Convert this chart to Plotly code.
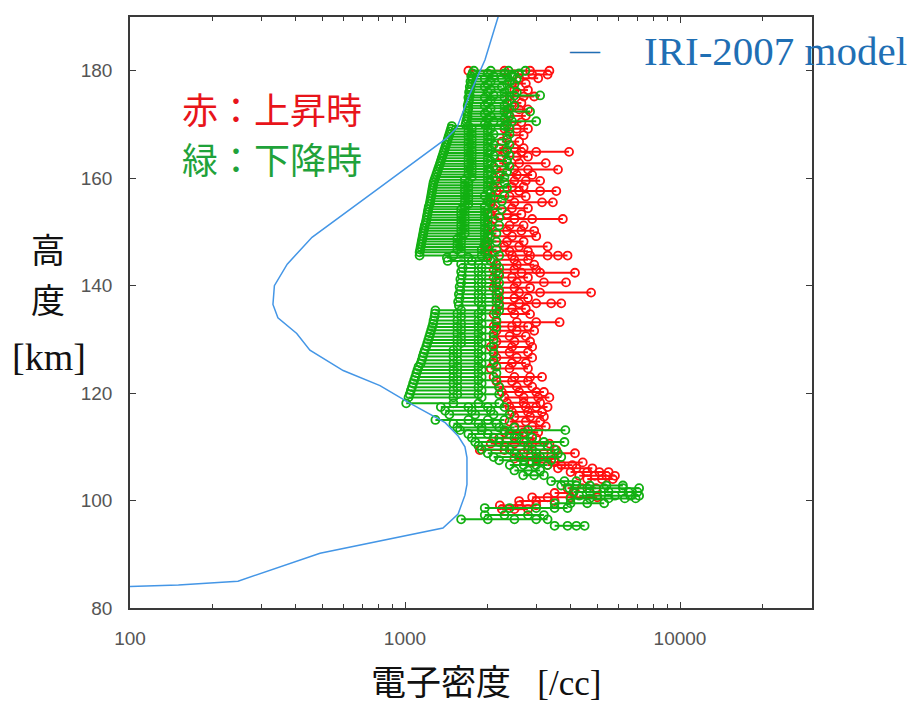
import plotly.graph_objects as go

# ---------------- data ----------------
# IRI-2007 model profile: electron density [/cc] vs altitude [km]
iri_density = [100, 150, 247, 491, 1374, 1560, 1652, 1680, 1680, 1652, 1560, 1400, 1025, 811,
               596, 451, 404, 345, 331, 335, 373, 459, 811, 1422, 1545, 1722, 1953, 2180, 2300]
iri_alt = [84.0, 84.3, 85.0, 90.2, 94.9, 97.5, 101.0, 103.0, 108.0, 110.0, 112.0, 114.5, 118.3, 121.4,
           124.2, 128.0, 131.1, 134.0, 136.5, 140.0, 144.0, 149.0, 158.3, 167.5, 169.4, 175.7, 182.0, 190.0, 193.0]

# ascending (red): (altitude, densities measured along the row)
up_upper = [
    (180.0, [1700, 2300, 2850, 3350]), (179.3, [2500, 2900, 3300]), (178.6, [2600, 3050]),
    (177.6, [2450, 2750]), (176.4, [2500, 2800]), (175.2, [2400, 2700, 2950]),
    (174.0, [2450, 2650]), (172.8, [2350, 2600, 2800]), (171.6, [2400, 2750]),
    (170.4, [2350, 2650]), (169.2, [2300, 2550, 2800]), (168.0, [2350, 2700]),
    (166.8, [2250, 2600]), (165.6, [2200, 2500, 2700]), (164.9, [2300, 2650, 3000, 3950]),
    (164.0, [2250, 2550, 2800]), (162.8, [2200, 2600, 3250]), (161.6, [2150, 2500, 2800, 3600]),
    (160.6, [2200, 2550, 2900]), (159.5, [2150, 2500, 2750, 3100]), (158.4, [2100, 2450, 2700]),
    (157.6, [2150, 2600, 3100, 3550]), (156.6, [2100, 2400, 2750]), (155.5, [2050, 2500, 3150, 3450]),
    (154.4, [2100, 2450, 2800]), (153.3, [2050, 2350, 2650]), (152.4, [2100, 2500, 2900, 3750]),
    (151.2, [2050, 2400, 2700]), (150.2, [2000, 2350, 2650, 2950]), (149.2, [2050, 2450, 3000]),
    (148.2, [2000, 2350, 2700]), (147.3, [1950, 2300, 2600, 3300]), (146.4, [2000, 2400, 2800]),
    (145.6, [2000, 2450, 2850, 3300, 3600, 3900]), (144.8, [2100, 2500, 2800]),
]
up_middle = [
    (143.9, [2150, 2550, 2950]), (143.0, [2100, 2500, 3000]), (142.4, [2200, 2650, 3100, 4150]),
    (141.5, [2100, 2450, 2800]), (140.6, [2150, 2550, 3200, 3850]), (139.6, [2100, 2500, 2850]),
    (138.7, [2200, 2600, 3100, 4750]), (137.7, [2150, 2500, 2800]), (136.7, [2200, 2600, 3000, 3400, 3700]),
    (135.7, [2150, 2450, 2750]), (134.7, [2100, 2500, 2850]), (133.2, [2150, 2550, 3000, 3650]),
    (132.4, [2100, 2450, 2800]), (131.6, [2150, 2550, 2950]), (130.6, [2100, 2400, 2750]),
    (129.6, [2150, 2500, 2850]), (128.6, [2050, 2450, 2900]), (127.6, [2100, 2400, 2800]),
    (126.6, [2150, 2550, 2900]), (125.6, [2100, 2450, 2750]), (124.6, [2050, 2400, 2800]),
    (123.0, [2100, 2500, 2850, 3150]), (122.2, [2150, 2450, 2800]), (121.2, [2200, 2550, 2900]),
    (120.2, [2250, 2600, 3000, 3200]), (119.2, [2300, 2700, 3050, 3350]), (118.2, [2350, 2700, 3100]),
    (117.4, [2400, 2750, 3000, 3300]),
]
up_lower = [
    (116.5, [2450, 2800, 3150]), (115.6, [2500, 2850, 3200]), (114.7, [2400, 2750, 3100]),
    (113.8, [2500, 2900, 3250]), (112.7, [2300, 2700, 3050]), (111.6, [2200, 2600, 3000]),
    (110.6, [2050, 2500, 2900, 3350]), (109.4, [1870, 2300, 2800, 3550]), (108.8, [2700, 3200, 4150]),
    (107.8, [2500, 3000, 3500]), (107.1, [2900, 3500, 4430]), (106.6, [3300, 3700, 4060]),
    (106.0, [3600, 4200, 4800]), (105.3, [4000, 4600, 5090, 5500]), (104.6, [4300, 4900, 5400, 5800]),
    (104.0, [4600, 5200, 5700]), (102.3, [3900, 4400, 4950]), (101.4, [3500, 4100]),
    (100.6, [2900, 3300, 4000, 5000]), (99.9, [2600, 3000, 3500]), (99.1, [2213, 2600, 3000]),
    (98.4, [2250, 2500, 2800]),
]

# descending (green)
down_upper = [
    (180.0, [1780, 2050, 2380, 2740]), (179.5, [1760, 2000, 2300, 2600]), (179.0, [1740, 2100, 2450]),
    (178.5, [1750, 1950, 2250, 2550]), (178.0, [1730, 2050, 2400]), (177.5, [1740, 2000, 2350, 2500]),
    (177.0, [1720, 1950, 2250]), (176.5, [1730, 2050, 2400]), (176.0, [1710, 2000, 2300, 2550]),
    (175.4, [1720, 2100, 2500, 3100]), (175.0, [1700, 1950, 2300]), (174.5, [1710, 2050, 2400]),
    (174.0, [1700, 2000, 2350]), (173.5, [1690, 1950, 2300, 2500]), (173.0, [1700, 2050, 2400]),
    (172.4, [1690, 2000, 2300, 2850]), (172.0, [1680, 1950, 2350]), (171.5, [1690, 2050, 2400]),
    (171.0, [1680, 2000, 2300]), (170.6, [1670, 2100, 2450, 3000]), (170.0, [1660, 1950, 2350]),
    (169.7, [1480, 1700, 2000, 2300]), (169.2, [1470, 1750, 2050, 2400]), (168.7, [1460, 1700, 2000]),
    (168.2, [1450, 1750, 2100, 2400]), (167.7, [1440, 1700, 2000]), (167.2, [1430, 1750, 2050, 2350]),
    (166.7, [1420, 1700, 2000]), (166.2, [1410, 1750, 2100, 2400]), (165.7, [1400, 1700, 2000]),
    (165.2, [1390, 1750, 2050, 2350]), (164.7, [1380, 1700, 2000]), (164.2, [1370, 1750, 2100, 2400]),
    (163.7, [1360, 1700, 2000]), (163.2, [1350, 1750, 2050, 2350]), (162.7, [1340, 1700, 2000]),
    (162.2, [1330, 1750, 2100, 2400]), (161.7, [1320, 1700, 2000]), (161.2, [1310, 1750, 2050, 2350]),
    (160.7, [1300, 1700, 2000]), (160.2, [1290, 1750, 2100, 2300]), (159.7, [1280, 1650, 2000]),
    (159.2, [1270, 1700, 2050, 2300]), (158.7, [1265, 1650, 2000]), (158.2, [1260, 1700, 2100, 2350]),
    (157.7, [1255, 1650, 2000]), (157.2, [1250, 1700, 2050]), (156.7, [1245, 1650, 1950, 2300]),
    (156.2, [1240, 1700, 2050]), (155.7, [1235, 1650, 2000, 2250]), (155.2, [1230, 1700, 2050]),
    (154.7, [1220, 1650, 1950]), (154.2, [1215, 1600, 2000, 2250]), (153.7, [1210, 1650, 1950]),
    (153.2, [1205, 1600, 2000]), (152.7, [1200, 1650, 1950, 2200]), (152.2, [1195, 1600, 2000]),
    (151.7, [1190, 1650, 1950]), (151.2, [1180, 1600, 2000, 2200]), (150.7, [1175, 1650, 1950]),
    (150.2, [1170, 1600, 2000]), (149.7, [1165, 1650, 1950, 2150]), (149.2, [1160, 1600, 2000]),
    (148.7, [1155, 1550, 1950]), (148.2, [1150, 1600, 2000, 2150]), (147.7, [1145, 1550, 1950]),
    (147.2, [1140, 1600, 2000]), (146.7, [1135, 1550, 1900, 2150]), (146.2, [1130, 1600, 1950]),
    (145.6, [1130, 1500, 1900, 2200]), (145.2, [1420, 1700, 2000]), (144.6, [1430, 1750, 2050]),
]
down_middle = [
    (144.0, [1600, 1850, 2150]), (143.3, [1620, 1900, 2200]), (142.6, [1600, 1850, 2150]),
    (141.9, [1610, 1900, 2200]), (141.2, [1590, 1850, 2150]), (140.5, [1600, 1900, 2200]),
    (139.8, [1580, 1850, 2150]), (139.1, [1590, 1900, 2200]), (138.4, [1570, 1850, 2150]),
    (137.7, [1580, 1900, 2200]), (137.0, [1560, 1850, 2150]), (136.3, [1570, 1900, 2200]),
    (135.4, [1290, 1600, 1900, 2200]), (134.8, [1285, 1550, 1850, 2150]), (134.2, [1280, 1600, 1900]),
    (133.5, [1270, 1550, 1850, 2150]), (132.9, [1265, 1600, 1900]), (132.3, [1255, 1550, 1850, 2150]),
    (131.7, [1245, 1600, 1900]), (131.1, [1235, 1550, 1850, 2100]), (130.5, [1225, 1600, 1900]),
    (129.9, [1215, 1550, 1850, 2100]), (129.3, [1205, 1600, 1900]), (128.7, [1195, 1550, 1850, 2100]),
    (128.0, [1180, 1500, 1900]), (127.4, [1170, 1550, 1850, 2100]), (126.8, [1160, 1500, 1900]),
    (126.1, [1150, 1550, 1850, 2100]), (125.5, [1140, 1500, 1900]), (124.9, [1120, 1550, 1850, 2150]),
    (124.3, [1110, 1500, 1900]), (123.7, [1100, 1550, 1850, 2150]), (123.0, [1090, 1500, 1900]),
    (122.4, [1080, 1550, 1850, 2150]), (121.8, [1070, 1500, 1900]), (121.1, [1060, 1550, 1850, 2200]),
    (120.5, [1050, 1500, 1900]), (119.8, [1040, 1550, 1850, 2200]), (119.2, [1030, 1500, 1900]),
    (118.1, [1010, 1500, 1850, 2200]),
]
down_lower = [
    (117.4, [1350, 1700, 2000, 2300]), (116.7, [1400, 1750, 2050]), (116.0, [1450, 1800, 2100, 2400]),
    (115.0, [1290, 1700, 2000, 2300]), (114.3, [1500, 1850, 2150]), (113.6, [1550, 1900, 2200, 2500]),
    (113.1, [1586, 1900, 2300, 2800, 3830]), (112.4, [1700, 2000, 2400, 2700]),
    (111.7, [1750, 2100, 2500, 2900]), (110.9, [1800, 2200, 2700, 3200, 3800]),
    (110.2, [1850, 2300, 2800, 3300]), (109.5, [1900, 2400, 2900, 3500]),
    (108.8, [2000, 2500, 3000, 3600]), (108.1, [2100, 2600, 3100, 3700]),
    (107.5, [2200, 2700, 3000, 3400]), (106.6, [2405, 2700, 3000, 3300]),
    (105.6, [2500, 2800, 3100]), (104.7, [2690, 2950, 3200]), (103.6, [3400, 3800, 4200]),
    (102.8, [3700, 4200, 4700, 5400, 6200]), (102.3, [3960, 4600, 5300, 6200, 7100]),
    (101.6, [4100, 4700, 5500, 6500, 7000]), (100.9, [4300, 5000, 5800, 6600, 7100]),
    (100.4, [4000, 4700, 5500, 6300, 6900]), (99.5, [3500, 4000, 4600, 5300]),
    (98.6, [1950, 2400, 3000, 3500, 3900]), (97.3, [1950, 2300, 2800, 3200]),
    (96.5, [1600, 2000, 2500, 3000, 3300]), (95.3, [3500, 3900, 4200, 4500]),
]

x_tickvals = [100, 1000, 10000]
x_minor_vals = [200, 300, 400, 500, 600, 700, 800, 900,
                2000, 3000, 4000, 5000, 6000, 7000, 8000, 9000, 20000]
y_tickvals = [80, 100, 120, 140, 160, 180]

RED = "#ff1010"
GREEN = "#12b012"
BLUE = "#4496e6"


def rows_to_xy(rows):
    xs, ys = [], []
    for alt, vals in rows:
        xs.extend(vals)
        ys.extend([alt] * len(vals))
        xs.append(None)
        ys.append(None)
    return xs, ys


fig = go.Figure()

ux, uy = rows_to_xy(up_upper + up_middle + up_lower)
dx, dy = rows_to_xy(down_upper + down_middle + down_lower)

fig.add_trace(go.Scatter(x=ux, y=uy, mode="lines+markers", connectgaps=False,
                         line=dict(color=RED, width=2),
                         marker=dict(symbol="circle-open", size=8, color=RED, line=dict(width=1.8)),
                         showlegend=False))
fig.add_trace(go.Scatter(x=dx, y=dy, mode="lines+markers", connectgaps=False,
                         line=dict(color=GREEN, width=2),
                         marker=dict(symbol="circle-open", size=8, color=GREEN, line=dict(width=1.8)),
                         showlegend=False))
fig.add_trace(go.Scatter(x=iri_density, y=iri_alt, mode="lines",
                         line=dict(color=BLUE, width=1.5), showlegend=False))

axis_common = dict(showline=True, linecolor="#3a3a3a", linewidth=1.5, mirror="ticks",
                   ticks="inside", tickcolor="#3a3a3a", tickwidth=1.2, showgrid=False,
                   zeroline=False, tickfont=dict(family="Liberation Sans, Arial", size=19, color="#555555"))

fig.update_xaxes(type="log", range=[2, 4.48], tickmode="array", tickvals=x_tickvals,
                 ticktext=[str(v) for v in x_tickvals], ticklen=6, ticklabelstandoff=12,
                 minor=dict(tickmode="array", tickvals=x_minor_vals, ticks="inside",
                            ticklen=4, tickcolor="#3a3a3a", showgrid=False),
                 **axis_common)
fig.update_yaxes(range=[80, 190], tickmode="array", tickvals=y_tickvals, ticklen=6,
                 ticklabelstandoff=12, **axis_common)

CJK = "Liberation Serif, Noto Sans CJK JP"
ann = [
    dict(text="赤：上昇時", x=0.073, y=0.846, font=dict(family="Noto Sans CJK JP", size=36, color="#e8141a"),
         xanchor="left", yanchor="middle"),
    dict(text="緑：下降時", x=0.073, y=0.761, font=dict(family="Noto Sans CJK JP", size=36, color="#1fa23a"),
         xanchor="left", yanchor="middle"),
    dict(text="—", x=0.667, y=0.945, font=dict(family="Liberation Serif", size=30, color="#1f6fb4"),
         xanchor="center", yanchor="middle"),
    dict(text="IRI-2007 model", x=0.751, y=0.942, font=dict(family="Liberation Serif", size=41, color="#1f6fb4"),
         xanchor="left", yanchor="middle"),
    dict(text="高", x=-0.120, y=0.603, font=dict(family=CJK, size=34, color="#111111"),
         xanchor="center", yanchor="middle"),
    dict(text="度", x=-0.120, y=0.518, font=dict(family=CJK, size=34, color="#111111"),
         xanchor="center", yanchor="middle"),
    dict(text="[km]", x=-0.119, y=0.424, font=dict(family=CJK, size=38, color="#111111"),
         xanchor="center", yanchor="middle"),
    dict(text="電子密度 \u2002[/cc]", x=0.522, y=-0.127, font=dict(family=CJK, size=35, color="#111111"),
         xanchor="center", yanchor="middle"),
]
for a in ann:
    a.update(xref="paper", yref="paper", showarrow=False)

fig.update_layout(width=909, height=702, margin=dict(l=130, r=97, t=17, b=94),
                  paper_bgcolor="white", plot_bgcolor="white", annotations=ann,
                  showlegend=False)

fig.write_html("out.html")
